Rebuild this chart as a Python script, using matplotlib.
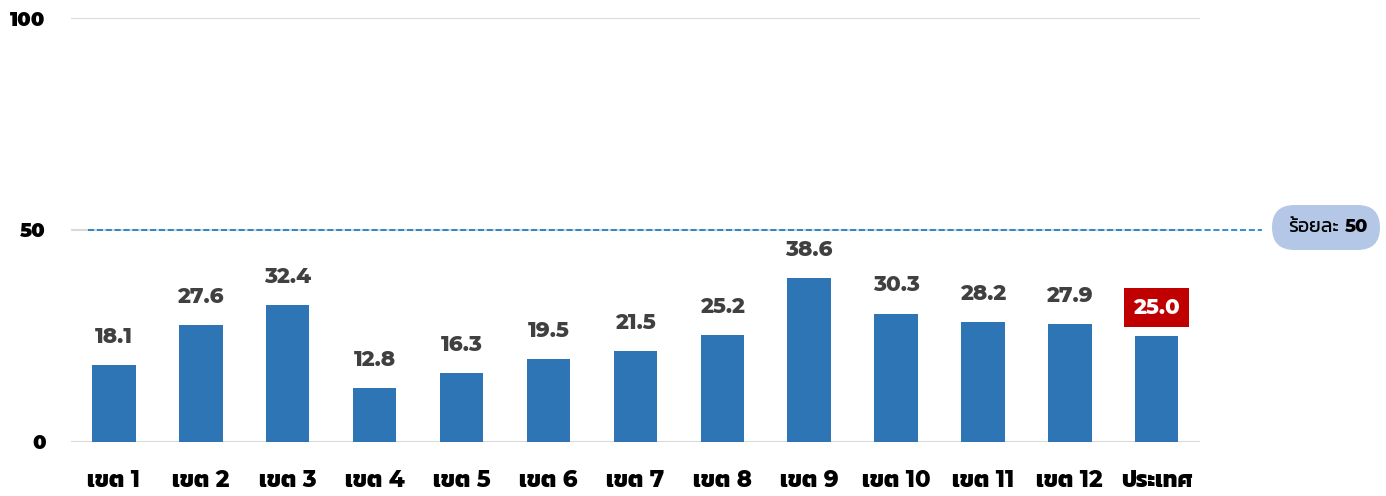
import matplotlib
matplotlib.use('Agg')
import matplotlib.pyplot as plt
from matplotlib.patches import FancyBboxPatch

plt.rcParams['font.family'] = ['Montserrat Alternates', 'Kanit', 'DejaVu Sans']

regions = ['เขต 1', 'เขต 2', 'เขต 3', 'เขต 4', 'เขต 5', 'เขต 6', 'เขต 7',
           'เขต 8', 'เขต 9', 'เขต 10', 'เขต 11', 'เขต 12', 'ประเทศ']
values = [18.1, 27.6, 32.4, 12.8, 16.3, 19.5, 21.5, 25.2, 38.6, 30.3, 28.2, 27.9, 25.0]
yticks = [0, 50, 100]
target = 50

bar_color = '#2E75B6'
grid_color = '#D9D9D9'

fig = plt.figure(figsize=(13.86, 4.96), dpi=100)
ax = fig.add_axes([0.0509, 0.1089, 0.8150, 0.8548])

x = list(range(len(values)))
ax.bar(x, values, width=0.5, color=bar_color, zorder=3)

for xi, v in zip(x[:-1], values[:-1]):
    ax.annotate(f'{v:.1f}', (xi, v), xytext=(0, 13), textcoords='offset points',
                ha='center', va='bottom', fontsize=15.5, fontweight=800,
                color='#404040')

# country value in red box
ax.annotate(f'{values[-1]:.1f}', (x[-1], values[-1]), xytext=(0, 13),
            textcoords='offset points', ha='center', va='bottom', fontsize=15.5,
            fontweight=800, color='white',
            bbox=dict(boxstyle='square,pad=0.42', fc='#C00000', ec='none'))

ax.set_xlim(-0.5, len(values) - 0.5)
ax.set_ylim(0, 100)
ax.set_yticks(yticks)
ax.set_xticks(x)
ax.set_xticklabels(regions, fontsize=16.5, fontweight=800)
ax.set_yticklabels([str(t) for t in yticks], fontsize=14, fontweight=900)
ax.tick_params(axis='both', length=0, colors='black')
ax.tick_params(axis='y', pad=18)
ax.tick_params(axis='x', pad=20)
ax.grid(axis='y', color=grid_color, linewidth=1.5, zorder=0)
for s in ax.spines.values():
    s.set_visible(False)

# target line, runs past the axes to the badge
ax.plot([-0.3, 13.21], [target, target], color='#0070C0', linewidth=1.1,
        dashes=(4, 1.8), clip_on=False, zorder=4)

badge = FancyBboxPatch((12.72, 2.46), 1.08, 0.45,
                       boxstyle='round,pad=0,rounding_size=0.225',
                       transform=fig.dpi_scale_trans, fc='#B4C7E7', ec='none')
fig.patches.append(badge)
fig.text(13.385, 2.69, 'ร้อยละ', transform=fig.dpi_scale_trans, ha='right',
         va='center', fontsize=14, color='black')
fig.text(13.445, 2.69, str(target), transform=fig.dpi_scale_trans, ha='left',
         va='center', fontsize=13, fontweight=800, color='black')

fig.savefig('out.png')
